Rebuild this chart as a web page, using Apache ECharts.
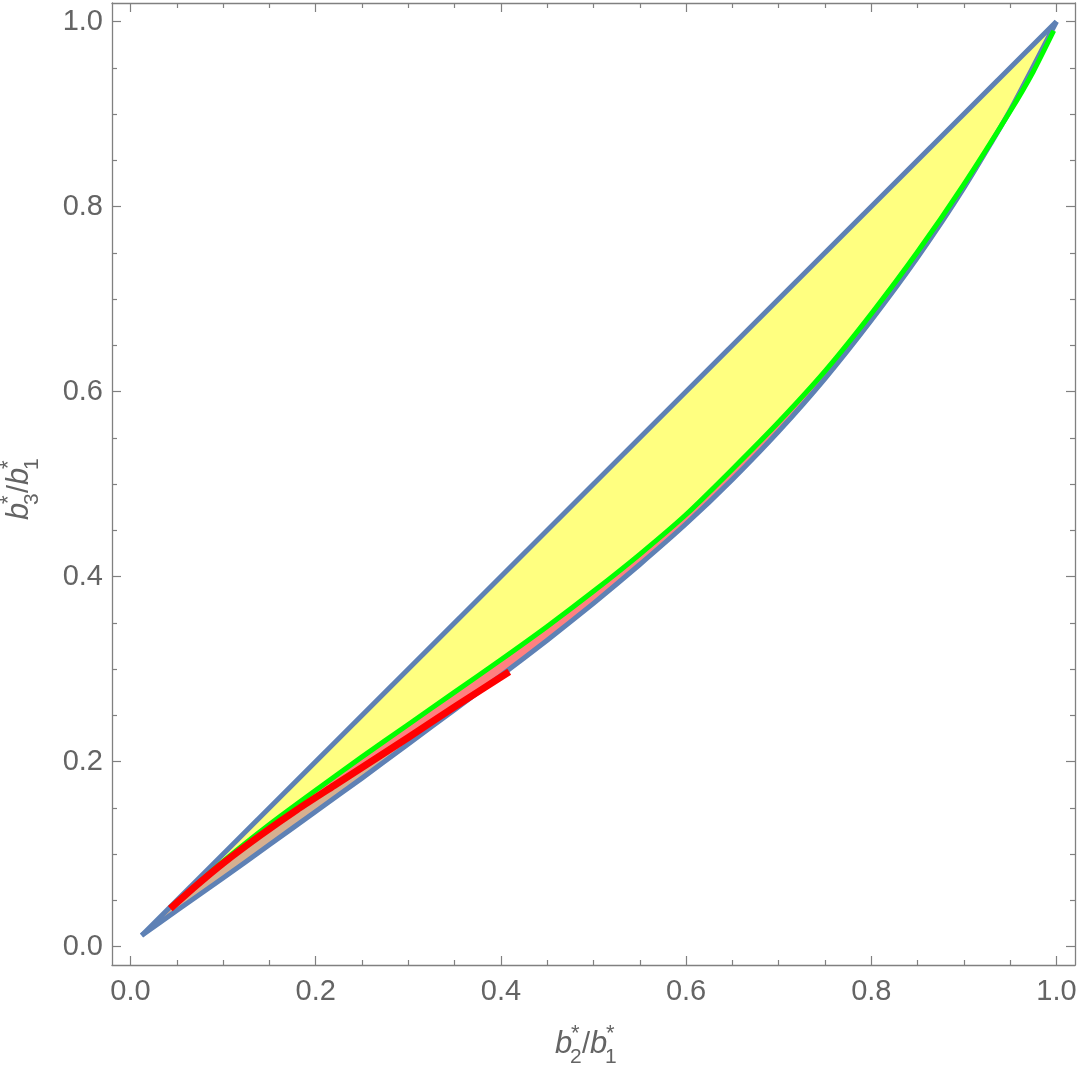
<!DOCTYPE html>
<html>
<head>
<meta charset="utf-8">
<script src="https://cdn.jsdelivr.net/npm/echarts@6/dist/echarts.min.js"></script>
<style>html,body{margin:0;padding:0;background:#fff;}#c{width:1080px;height:1070px;}</style>
</head>
<body>
<div id="c"></div>
<script>
// ---- data ----
const upperX = [0.012, 1.0];
const upperY = [0.012, 1.0];

const lowerX = [0.012, 0.05, 0.1, 0.15, 0.2, 0.25, 0.3, 0.35, 0.4, 0.45, 0.5, 0.55, 0.6, 0.65, 0.7, 0.75, 0.8, 0.85, 0.9, 0.95, 1.0];
const lowerY = [0.012, 0.039, 0.074, 0.110, 0.146, 0.182, 0.219, 0.256, 0.293, 0.331, 0.371, 0.413, 0.457, 0.505, 0.557, 0.614, 0.677, 0.745, 0.820, 0.904, 1.0];

const greenX = [0.043, 0.1, 0.15, 0.2, 0.25, 0.3, 0.35, 0.4, 0.45, 0.5, 0.55, 0.6, 0.65, 0.7, 0.75, 0.8, 0.85, 0.9, 0.95, 0.975, 0.997];
const greenY = [0.042, 0.092, 0.132, 0.169, 0.205, 0.240, 0.275, 0.310, 0.346, 0.384, 0.424, 0.467, 0.516, 0.567, 0.622, 0.684, 0.751, 0.824, 0.903, 0.946, 0.990];

const redX = [0.043, 0.07, 0.1, 0.14, 0.18, 0.22, 0.26, 0.3, 0.35, 0.409];
const redY = [0.041, 0.065, 0.090, 0.120, 0.148, 0.174, 0.200, 0.226, 0.259, 0.297];

const majorTicks = [0, 0.2, 0.4, 0.6, 0.8, 1.0];
const minorTicks = [0.05, 0.1, 0.15, 0.25, 0.3, 0.35, 0.45, 0.5, 0.55, 0.65, 0.7, 0.75, 0.85, 0.9, 0.95];

// ---- helpers ----
const zip = (xs, ys) => xs.map((x, i) => [x, ys[i]]);
const upper = zip(upperX, upperY);
const lower = zip(lowerX, lowerY);
const green = zip(greenX, greenY);
const red = zip(redX, redY);

const yellowPoly = upper.concat(green.slice().reverse());
const pinkPoly = green.concat(lower.slice().reverse());
const tanPoly = red.concat(lower.filter(p => p[0] < redX[redX.length - 1]).reverse());

const AX_MIN = -0.02, AX_MAX = 1.02;
const frameColor = '#808080';
const textColor = '#646464';
const FONT = '"Liberation Sans", Arial, sans-serif';

function axisDef(kind, pos, major, showLabel, showLine) {
  return {
    type: 'value', position: pos, min: AX_MIN, max: AX_MAX,
    splitLine: { show: false },
    axisLine: { show: showLine, onZero: false, lineStyle: { color: frameColor, width: 1.3 } },
    axisTick: { show: true, inside: true, length: major ? 9 : 5, customValues: major ? majorTicks : minorTicks,
                lineStyle: { color: frameColor, width: 1.2 } },
    axisLabel: { show: showLabel, customValues: majorTicks, color: textColor, fontFamily: FONT, fontSize: 29,
                 margin: kind === 'x' ? 12 : 9, formatter: v => v.toFixed(1) }
  };
}

function polySeries(poly, color) {
  return {
    type: 'custom', xAxisIndex: 0, yAxisIndex: 0, z: 1, silent: true,
    data: [[poly[0][0], poly[0][1]]],
    renderItem: function (params, api) {
      return { type: 'polygon', shape: { points: poly.map(p => api.coord(p)) },
               style: { fill: color, stroke: null } };
    }
  };
}

function lineSeries(data, color, width, z) {
  return { type: 'line', data: data, showSymbol: false, symbol: 'none', z: z, silent: true, smooth: 0.2,
           lineStyle: { color: color, width: width, cap: 'butt', join: 'round' } };
}

// axis-title pieces: [text, dx, baselineDy, fontSize, italic]
const titlePieces = (sub) => [
  ['b', 0, 0, 31, true],
  ['*', 16, -13, 22, false],
  [sub, 15, 9, 21, false],
  ['/', 27, 0, 29, false],
  ['b', 35, 0, 31, true],
  ['*', 51, -13, 22, false],
  ['1', 50, 9, 21, false]
];
function titleGroup(sub, x, y, rot) {
  return {
    type: 'group', x: x, y: y, rotation: rot,
    children: titlePieces(sub).map(p => ({
      type: 'text', x: p[1], y: p[2] - 0.3465 * p[3],
      style: { text: p[0], fill: textColor, font: (p[4] ? 'italic ' : '') + p[3] + 'px ' + FONT,
               textAlign: 'left', textVerticalAlign: 'middle' }
    }))
  };
}

const chart = echarts.init(document.getElementById('c'), null, { renderer: 'canvas' });
chart.setOption({
  backgroundColor: '#ffffff',
  animation: false,
  grid: { left: 112, right: 5, top: 3, bottom: 105, containLabel: false },
  xAxis: [
    axisDef('x', 'bottom', true, true, true),
    axisDef('x', 'bottom', false, false, false),
    axisDef('x', 'top', true, false, true),
    axisDef('x', 'top', false, false, false)
  ],
  yAxis: [
    axisDef('y', 'left', true, true, true),
    axisDef('y', 'left', false, false, false),
    axisDef('y', 'right', true, false, true),
    axisDef('y', 'right', false, false, false)
  ],
  series: [
    polySeries(yellowPoly, '#FFFF80'),
    polySeries(pinkPoly, '#FF8080'),
    polySeries(tanPoly, '#D6B090'),
    lineSeries(upper, '#5E81B5', 5, 3),
    lineSeries(lower, '#5E81B5', 5, 3),
    lineSeries(green, '#00FF00', 5, 4),
    lineSeries(red, '#FF0000', 7, 5)
  ],
  graphic: [
    titleGroup('2', 555, 1055, 0),
    titleGroup('3', 30, 520, Math.PI / 2)
  ]
});
</script>
</body>
</html>
